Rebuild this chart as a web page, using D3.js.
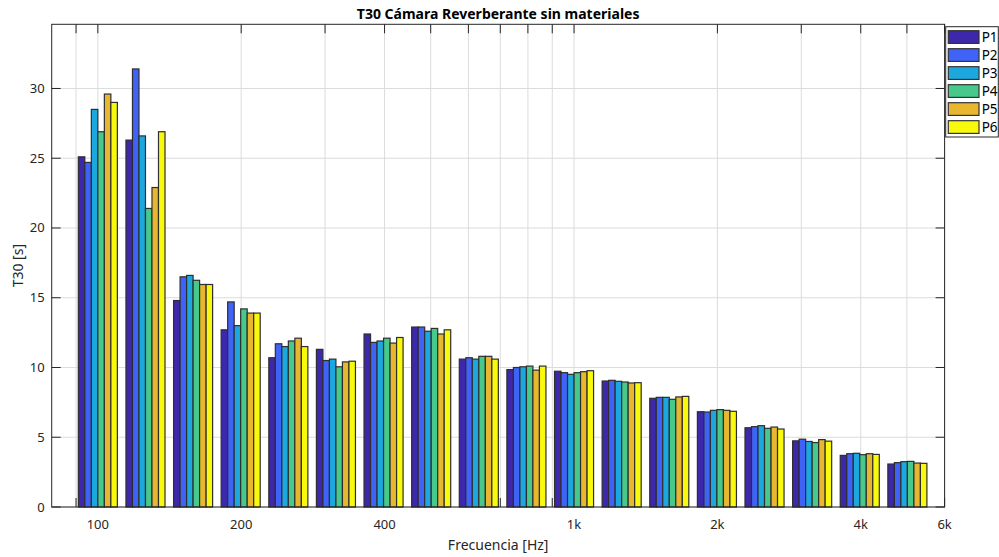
<!DOCTYPE html>
<html>
<head>
<meta charset="utf-8">
<script src="https://cdn.jsdelivr.net/npm/d3@7"></script>
<style>
  body { margin: 0; background: #fff; }
  text { font-family: "Noto Sans", "Open Sans", sans-serif; fill: #262626; }
</style>
</head>
<body>
<div id="chart"></div>
<script>
// Width and height of the SVG
const width = 999;
const height = 557;

// third octave band labels and their exact band centres (Hz)
const bands = ["100", "125", "160", "200", "250", "315", "400", "500", "630", "800",
    "1000", "1250", "1600", "2000", "2500", "3150", "4000", "5000"];
const centres = [100, 125.9, 158.5, 199.5, 251.2, 316.2, 398.1, 501.2, 631.0, 794.3,
    1000, 1258.9, 1584.9, 1995.3, 2511.9, 3162.3, 3981.1, 5011.9];

// T30 per measuring position [s]
const P1 = [25.1, 26.3, 14.8, 12.7, 10.7, 11.3, 12.4, 12.9, 10.6, 9.85, 9.73, 9.03, 7.79, 6.83, 5.68, 4.74, 3.70, 3.08];
const P2 = [24.7, 31.4, 16.5, 14.7, 11.7, 10.5, 11.8, 12.9, 10.7, 10.0, 9.63, 9.08, 7.86, 6.81, 5.76, 4.86, 3.82, 3.18];
const P3 = [28.5, 26.6, 16.6, 13.0, 11.5, 10.6, 11.9, 12.6, 10.6, 10.05, 9.51, 9.01, 7.86, 6.93, 5.83, 4.70, 3.85, 3.25];
const P4 = [26.9, 21.4, 16.25, 14.2, 11.9, 10.05, 12.1, 12.8, 10.8, 10.1, 9.63, 8.96, 7.72, 6.98, 5.64, 4.62, 3.75, 3.27];
const P5 = [29.6, 22.9, 15.95, 13.9, 12.1, 10.4, 11.75, 12.4, 10.8, 9.81, 9.70, 8.89, 7.89, 6.93, 5.73, 4.83, 3.82, 3.15];
const P6 = [29.0, 26.9, 15.95, 13.9, 11.5, 10.45, 12.15, 12.7, 10.6, 10.1, 9.77, 8.91, 7.93, 6.86, 5.59, 4.72, 3.77, 3.13];

const seriesNames = ["P1", "P2", "P3", "P4", "P5", "P6"];
const seriesValues = [P1, P2, P3, P4, P5, P6];
const colors = ["#3d27ab", "#4063f7", "#1ca8df", "#46c98b", "#e6b72f", "#f9f90e"];

// axis ticks
const gridTicks = [90, 100, 200, 300, 400, 500, 600, 700, 800, 900, 1000, 2000, 3000, 4000, 5000, 6000];
const labelTicks = [100, 200, 400, 1000, 2000, 4000, 6000];
const labelTickText = ["100", "200", "400", "1k", "2k", "4k", "6k"];
const yTicks = [0, 5, 10, 15, 20, 25, 30];

// plot box
const box = { left: 51.7, right: 944.6, top: 24.3, bottom: 507 };

const svg = d3.select("#chart")
    .append("svg")
    .attr("width", width)
    .attr("height", height);

const x = d3.scaleLog().domain([80, 6000]).range([box.left, box.right]);
const y = d3.scaleLinear().domain([0, 34.6]).range([box.bottom, box.top]);

// grid
const grid = svg.append("g").attr("stroke", "#dcdcdc").attr("stroke-width", 1);
gridTicks.forEach(t => {
    grid.append("line")
        .attr("x1", x(t)).attr("x2", x(t))
        .attr("y1", box.top).attr("y2", box.bottom);
});
yTicks.forEach(t => {
    grid.append("line")
        .attr("x1", box.left).attr("x2", box.right)
        .attr("y1", y(t)).attr("y2", y(t));
});

// x tick marks (drawn under the bars, bottom and top)
const tickLen = 9;
const ticks = svg.append("g").attr("stroke", "#262626").attr("stroke-width", 1);
gridTicks.forEach(t => {
    ticks.append("line").attr("x1", x(t)).attr("x2", x(t))
        .attr("y1", box.bottom).attr("y2", box.bottom - tickLen);
    ticks.append("line").attr("x1", x(t)).attr("x2", x(t))
        .attr("y1", box.top).attr("y2", box.top + tickLen);
});
yTicks.forEach(t => {
    ticks.append("line").attr("x1", box.left).attr("x2", box.left + tickLen)
        .attr("y1", y(t)).attr("y2", y(t));
    ticks.append("line").attr("x1", box.right).attr("x2", box.right - tickLen)
        .attr("y1", y(t)).attr("y2", y(t));
});

// grouped bars, each group spans ~0.8 of a third octave band (log space)
const groupDec = 0.082;
const barDec = groupDec / seriesNames.length;
const bars = svg.append("g");
seriesValues.forEach((vals, s) => {
    bars.selectAll(".bar-" + s)
        .data(vals)
        .enter()
        .append("rect")
        .attr("class", "bar-" + s)
        .attr("x", (d, i) => x(centres[i] * Math.pow(10, -groupDec / 2 + s * barDec)))
        .attr("width", (d, i) => x(centres[i] * Math.pow(10, -groupDec / 2 + (s + 1) * barDec))
            - x(centres[i] * Math.pow(10, -groupDec / 2 + s * barDec)))
        .attr("y", d => y(d))
        .attr("height", d => y(0) - y(d))
        .attr("fill", colors[s])
        .attr("stroke", "#2e2e2e")
        .attr("stroke-width", 1.2);
});

// axes box
svg.append("rect")
    .attr("x", box.left).attr("y", box.top)
    .attr("width", box.right - box.left).attr("height", box.bottom - box.top)
    .attr("fill", "none").attr("stroke", "#262626").attr("stroke-width", 1);

// tick labels
svg.append("g").selectAll("text")
    .data(labelTicks)
    .enter()
    .append("text")
    .attr("x", d => x(d))
    .attr("y", box.bottom + 22)
    .attr("text-anchor", "middle")
    .attr("font-size", 13)
    .text((d, i) => labelTickText[i]);

svg.append("g").selectAll("text")
    .data(yTicks)
    .enter()
    .append("text")
    .attr("x", box.left - 7)
    .attr("y", d => y(d) + 4.5)
    .attr("text-anchor", "end")
    .attr("font-size", 13)
    .text(d => d);

// title and axis labels
svg.append("text")
    .attr("x", (box.left + box.right) / 2)
    .attr("y", 19)
    .attr("text-anchor", "middle")
    .attr("font-size", 14)
    .attr("font-weight", "bold")
    .style("fill", "#000")
    .text("T30 Cámara Reverberante sin materiales");

svg.append("text")
    .attr("x", (box.left + box.right) / 2)
    .attr("y", 550)
    .attr("text-anchor", "middle")
    .attr("font-size", 14)
    .text("Frecuencia [Hz]");

svg.append("text")
    .attr("transform", "translate(23," + ((box.top + box.bottom) / 2) + ") rotate(-90)")
    .attr("text-anchor", "middle")
    .attr("font-size", 14)
    .text("T30 [s]");

// legend
const legend = svg.append("g").attr("transform", "translate(945.7,26.7)");
legend.append("rect")
    .attr("width", 52.6).attr("height", 110.3)
    .attr("fill", "#fff").attr("stroke", "#262626").attr("stroke-width", 1);
seriesNames.forEach((name, i) => {
    legend.append("rect")
        .attr("x", 2.6).attr("y", 4 + i * 18)
        .attr("width", 30.7).attr("height", 12.7)
        .attr("fill", colors[i]).attr("stroke", "#333").attr("stroke-width", 1.2);
    legend.append("text")
        .attr("x", 36).attr("y", 15.5 + i * 18)
        .attr("font-size", 13.5)
        .style("fill", "#000")
        .text(name);
});
</script>
</body>
</html>
